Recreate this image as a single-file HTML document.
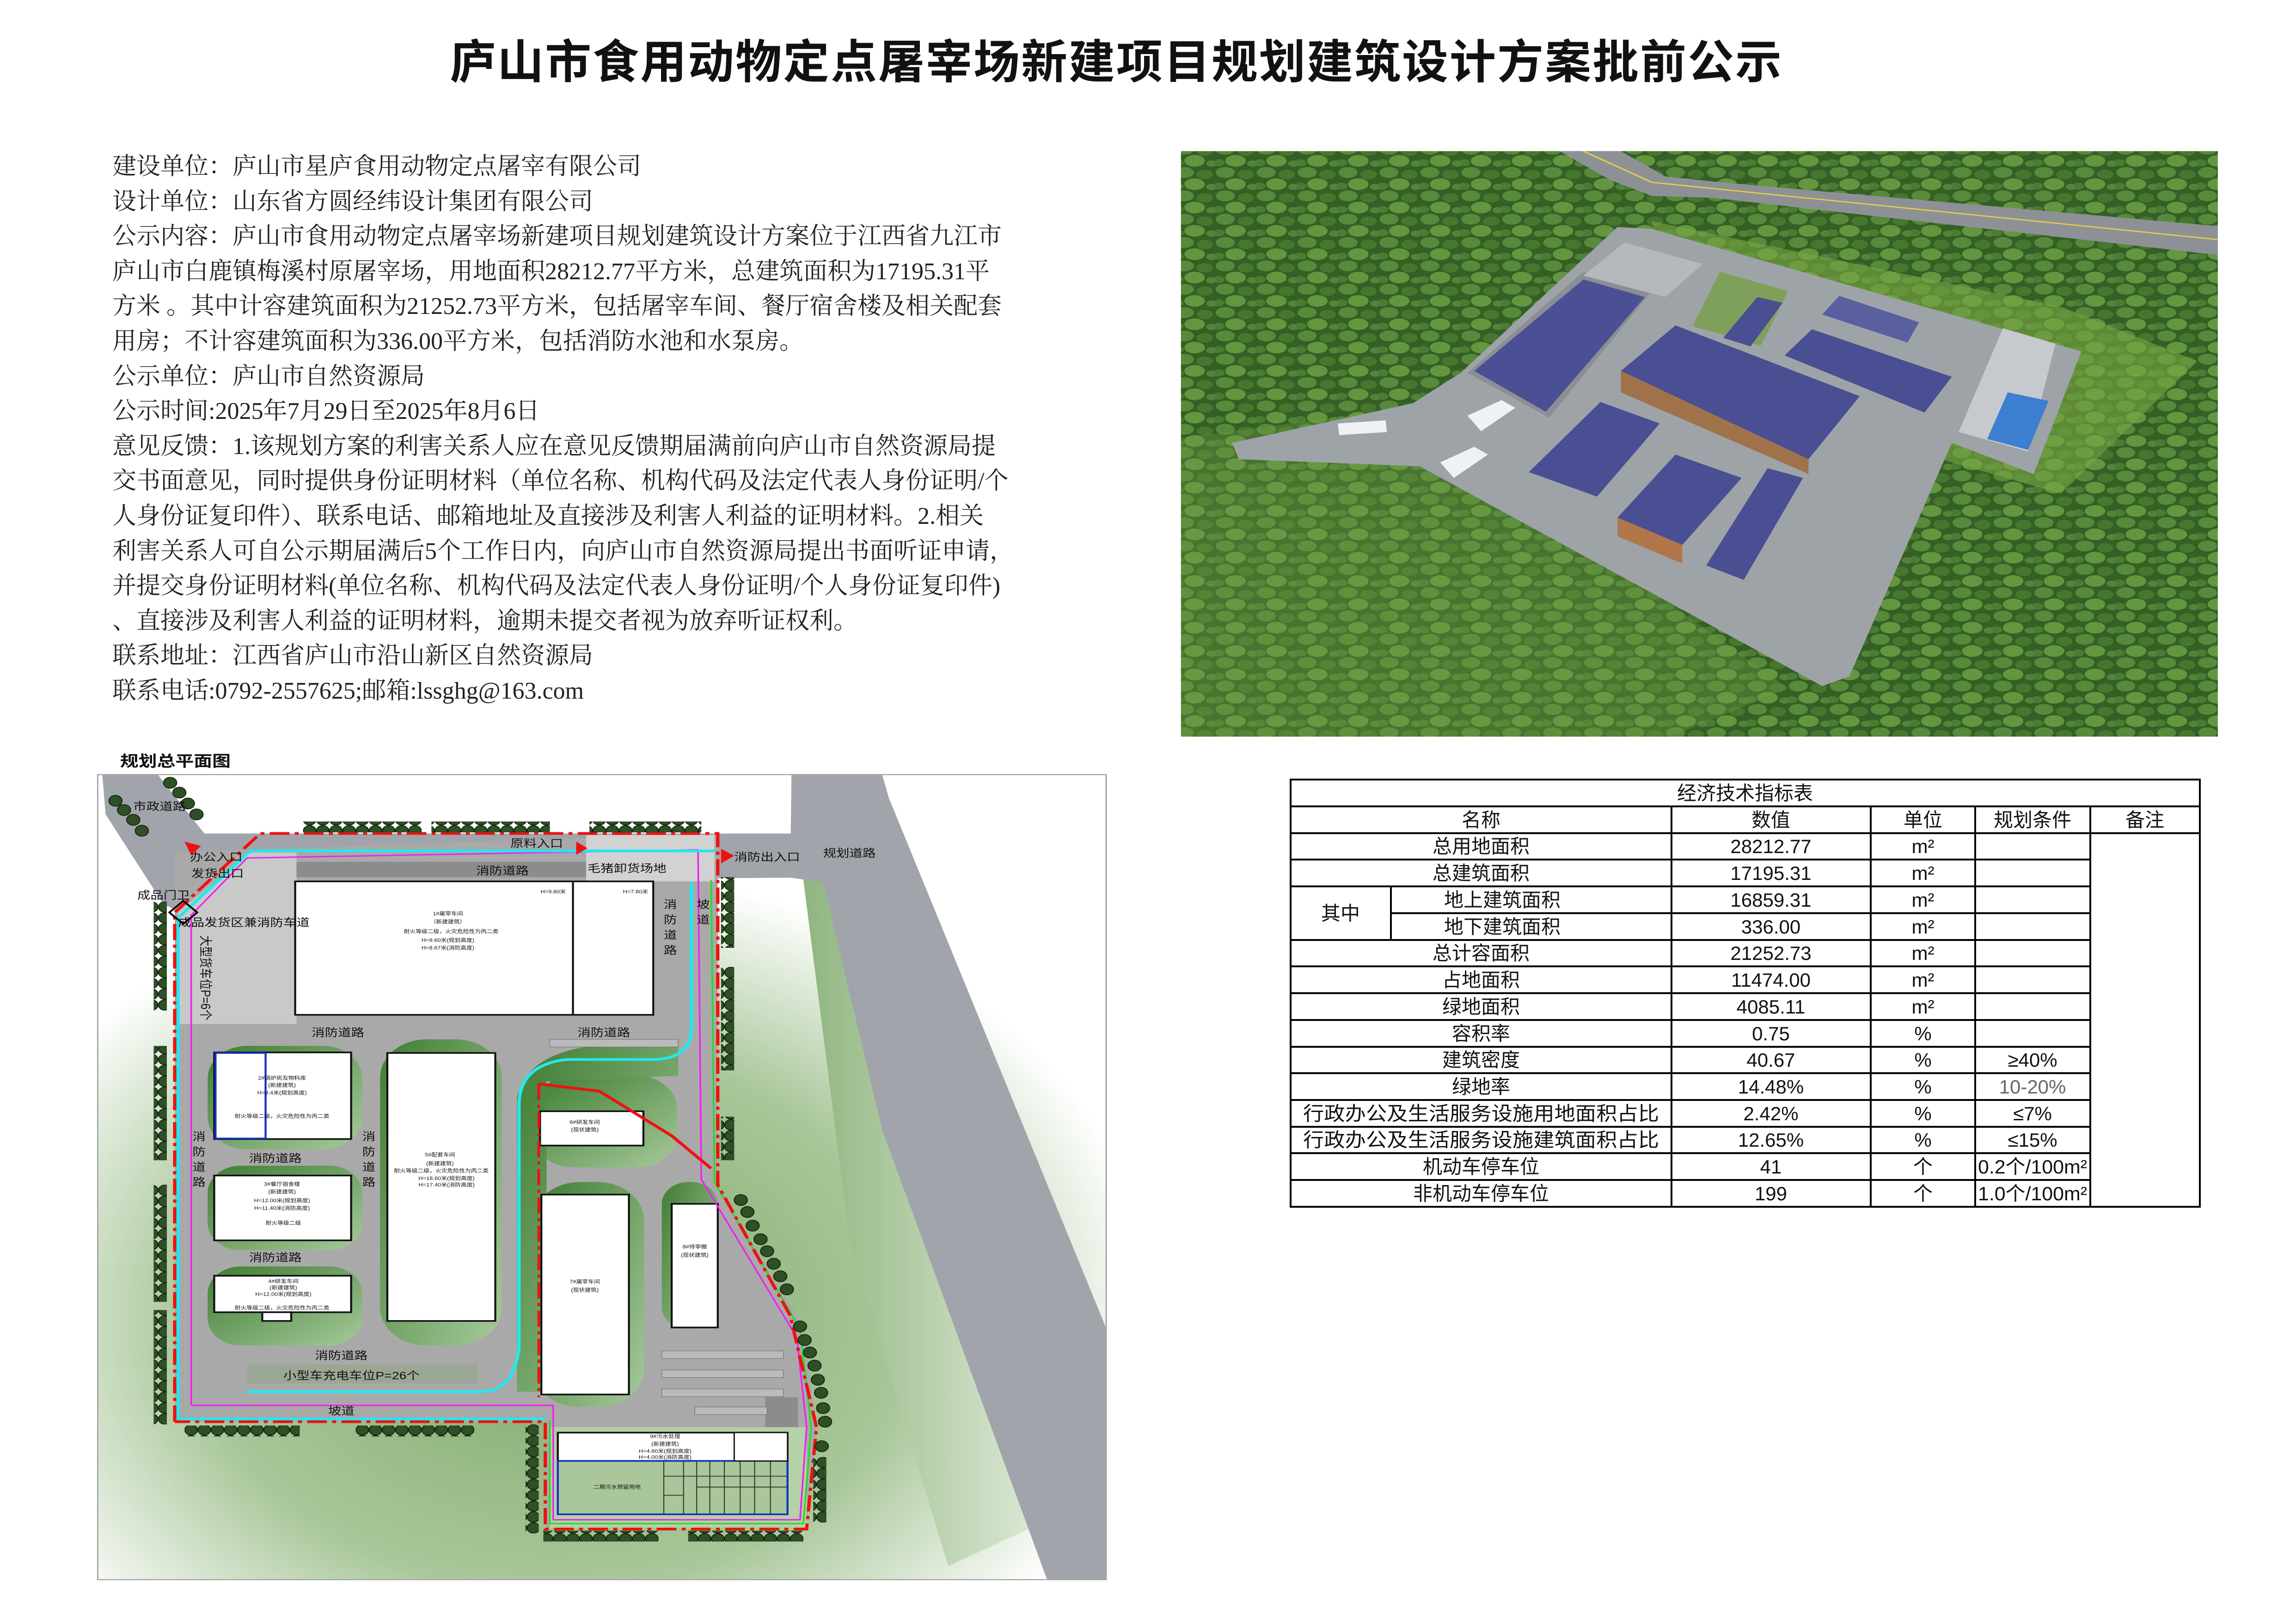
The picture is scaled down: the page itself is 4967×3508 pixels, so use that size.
<!DOCTYPE html>
<html><head><meta charset="utf-8"><style>
html,body{margin:0;padding:0;background:#fff}
body{width:4967px;height:3508px;position:relative;overflow:hidden;font-family:"Liberation Sans","Noto Sans CJK SC",sans-serif}
.title{position:absolute;left:0;width:4830px;top:70px;text-align:center;font-size:100px;font-weight:bold;letter-spacing:3px;line-height:130px;font-family:"Liberation Sans","Noto Sans CJK SC",sans-serif;color:#111}
.txt{position:absolute;left:243px;top:323px;font-family:"Liberation Serif","Noto Serif CJK SC",serif;font-size:52px;line-height:75.6px;color:#222}
.txt div{white-space:nowrap}
svg{position:absolute}
</style></head><body>
<div class="title">庐山市食用动物定点屠宰场新建项目规划建筑设计方案批前公示</div>
<div class="txt">
<div>建设单位：庐山市星庐食用动物定点屠宰有限公司</div>
<div>设计单位：山东省方圆经纬设计集团有限公司</div>
<div>公示内容：庐山市食用动物定点屠宰场新建项目规划建筑设计方案位于江西省九江市</div>
<div>庐山市白鹿镇梅溪村原屠宰场，用地面积28212.77平方米，总建筑面积为17195.31平</div>
<div>方米 。其中计容建筑面积为21252.73平方米，包括屠宰车间、餐厅宿舍楼及相关配套</div>
<div>用房；不计容建筑面积为336.00平方米，包括消防水池和水泵房。</div>
<div>公示单位：庐山市自然资源局</div>
<div>公示时间:2025年7月29日至2025年8月6日</div>
<div>意见反馈：1.该规划方案的利害关系人应在意见反馈期届满前向庐山市自然资源局提</div>
<div>交书面意见，同时提供身份证明材料（单位名称、机构代码及法定代表人身份证明/个</div>
<div>人身份证复印件）、联系电话、邮箱地址及直接涉及利害人利益的证明材料。2.相关</div>
<div>利害关系人可自公示期届满后5个工作日内，向庐山市自然资源局提出书面听证申请，</div>
<div>并提交身份证明材料(单位名称、机构代码及法定代表人身份证明/个人身份证复印件)</div>
<div>、直接涉及利害人利益的证明材料，逾期未提交者视为放弃听证权利。</div>
<div>联系地址：江西省庐山市沿山新区自然资源局</div>
<div>联系电话:0792-2557625;邮箱:lssghg@163.com</div>
</div>

<!-- PHOTO -->
<svg style="left:2540px;top:310px" width="2280" height="1300" viewBox="0 0 1545 1545" preserveAspectRatio="none">
<defs>
<pattern id="tr" width="60" height="60" patternUnits="userSpaceOnUse">
<rect width="60" height="60" fill="#355f25"/>
<circle cx="15" cy="15" r="14" fill="#578a3a"/><circle cx="45" cy="20" r="12" fill="#46772f"/>
<circle cx="30" cy="45" r="15" fill="#64963f"/><circle cx="5" cy="50" r="9" fill="#4a7c33"/><circle cx="55" cy="52" r="8" fill="#52843a"/>
</pattern>
<clipPath id="pc"><rect x="10" y="20" width="1520" height="1505"/></clipPath>
</defs>
<g clip-path="url(#pc)">
<rect x="0" y="0" width="1545" height="1545" fill="url(#tr)"/>
<polygon points="0,760 300,690 500,900 700,1150 900,1400 700,1545 0,1545" fill="#6f9f44" opacity="0.35"/>
<polygon points="700,200 1300,420 1500,560 1300,900 1100,800 1000,1000 800,800" fill="#7aa645" opacity="0.6"/>
<polygon points="560,15 650,15 720,85 800,100 1545,215 1545,290 790,140 700,135 640,95" fill="#8d9196"/>
<polyline points="600,20 700,100 800,118 1545,250" stroke="#e8d040" stroke-width="3" fill="none"/>
<polygon points="650,215 700,220 1330,535 1260,850 1140,770 990,1370 950,1395 360,830 95,812 85,770 350,668 420,590" fill="#9ea3a8"/>
<polygon points="800,330 900,380 860,520 760,470" fill="#7ea05a"/>
<polygon points="430,590 600,330 700,380 550,705" fill="#8b8f94"/>
<polygon points="440,585 600,350 690,395 545,690" fill="#4b4f94"/>
<polygon points="600,340 660,255 775,310 720,395" fill="#b5b8bc"/>
<polygon points="655,585 735,468 1005,650 930,812" fill="#4a4e92"/>
<polygon points="655,585 930,812 930,850 655,640" fill="#a0724a"/>
<polygon points="895,545 935,478 1140,600 1100,692" fill="#4a4e92"/>
<polygon points="805,500 855,395 892,410 845,522" fill="#4a4e92"/>
<polygon points="950,440 975,392 1092,460 1075,512" fill="#5a5fa0"/>
<polygon points="520,845 625,665 712,720 620,908" fill="#4a4e92"/>
<polygon points="650,962 735,800 832,860 745,1032" fill="#4a4e92"/>
<polygon points="650,962 745,1032 745,1080 650,1010" fill="#b0764a"/>
<polygon points="780,1085 870,835 922,860 835,1122" fill="#4a4e92"/>
<polygon points="1150,742 1215,475 1292,515 1252,792" fill="#c6c9cd"/>
<polygon points="1192,760 1222,640 1282,662 1252,788" fill="#3d7fd0"/>
<polygon points="240,720 310,712 312,742 242,750" fill="#eef2f5"/>
<polygon points="430,700 480,660 500,680 450,740" fill="#eef2f5"/>
<polygon points="390,820 440,780 460,800 410,860" fill="#eef2f5"/>
</g>
</svg>

<!-- TABLE -->
<svg style="left:0;top:0" width="4967" height="3508" viewBox="0 0 4967 3508" font-family="Liberation Sans, Noto Sans CJK SC, sans-serif" font-size="42" text-anchor="middle">
<g stroke="#000" stroke-width="4" fill="none">
<rect x="2792" y="1686" width="1967" height="924"/>
<line x1="2792" y1="1744" x2="4759" y2="1744"/>
<line x1="2792" y1="1802" x2="4759" y2="1802"/>
<line x1="3616" y1="1744" x2="3616" y2="2610"/>
<line x1="4047" y1="1744" x2="4047" y2="2610"/>
<line x1="4273" y1="1744" x2="4273" y2="2610"/>
<line x1="4522" y1="1744" x2="4522" y2="2610"/>
<line x1="3009" y1="1917" x2="3009" y2="2033"/>
<line x1="2792" y1="1859" x2="4522" y2="1859"/>
<line x1="2792" y1="1917" x2="4522" y2="1917"/>
<line x1="3009" y1="1975" x2="4522" y2="1975"/>
<line x1="2792" y1="2033" x2="4522" y2="2033"/>
<line x1="2792" y1="2090" x2="4522" y2="2090"/>
<line x1="2792" y1="2148" x2="4522" y2="2148"/>
<line x1="2792" y1="2206" x2="4522" y2="2206"/>
<line x1="2792" y1="2264" x2="4522" y2="2264"/>
<line x1="2792" y1="2321" x2="4522" y2="2321"/>
<line x1="2792" y1="2379" x2="4522" y2="2379"/>
<line x1="2792" y1="2437" x2="4522" y2="2437"/>
<line x1="2792" y1="2494" x2="4522" y2="2494"/>
<line x1="2792" y1="2552" x2="4522" y2="2552"/>
</g>
<g fill="#111">
<text x="3775" y="1730">经济技术指标表</text>
<text x="3204" y="1788">名称</text><text x="3831" y="1788">数值</text><text x="4160" y="1788">单位</text><text x="4397" y="1788">规划条件</text><text x="4640" y="1788">备注</text>
<text x="3204" y="1845">总用地面积</text><text x="3831" y="1845">28212.77</text><text x="4160" y="1845">m²</text>
<text x="3204" y="1903">总建筑面积</text><text x="3831" y="1903">17195.31</text><text x="4160" y="1903">m²</text>
<text x="2900" y="1990">其中</text>
<text x="3250" y="1961">地上建筑面积</text><text x="3831" y="1961">16859.31</text><text x="4160" y="1961">m²</text>
<text x="3250" y="2019">地下建筑面积</text><text x="3831" y="2019">336.00</text><text x="4160" y="2019">m²</text>
<text x="3204" y="2076">总计容面积</text><text x="3831" y="2076">21252.73</text><text x="4160" y="2076">m²</text>
<text x="3204" y="2134">占地面积</text><text x="3831" y="2134">11474.00</text><text x="4160" y="2134">m²</text>
<text x="3204" y="2192">绿地面积</text><text x="3831" y="2192">4085.11</text><text x="4160" y="2192">m²</text>
<text x="3204" y="2250">容积率</text><text x="3831" y="2250">0.75</text><text x="4160" y="2250">%</text>
<text x="3204" y="2307">建筑密度</text><text x="3831" y="2307">40.67</text><text x="4160" y="2307">%</text><text x="4397" y="2307">≥40%</text>
<text x="3204" y="2365">绿地率</text><text x="3831" y="2365">14.48%</text><text x="4160" y="2365">%</text><text x="4397" y="2365" fill="#666">10-20%</text>
<text x="3204" y="2423" textLength="770" lengthAdjust="spacingAndGlyphs">行政办公及生活服务设施用地面积占比</text><text x="3831" y="2423">2.42%</text><text x="4160" y="2423">%</text><text x="4397" y="2423">≤7%</text>
<text x="3204" y="2480" textLength="770" lengthAdjust="spacingAndGlyphs">行政办公及生活服务设施建筑面积占比</text><text x="3831" y="2480">12.65%</text><text x="4160" y="2480">%</text><text x="4397" y="2480">≤15%</text>
<text x="3204" y="2538">机动车停车位</text><text x="3831" y="2538">41</text><text x="4160" y="2538">个</text><text x="4397" y="2538" textLength="236" lengthAdjust="spacingAndGlyphs">0.2个/100m²</text>
<text x="3204" y="2596">非机动车停车位</text><text x="3831" y="2596">199</text><text x="4160" y="2596">个</text><text x="4397" y="2596" textLength="236" lengthAdjust="spacingAndGlyphs">1.0个/100m²</text>
</g>
</svg>

<!-- SITE PLAN -->
<svg style="left:200px;top:1620px" width="2200" height="1820" viewBox="0 0 1545 1545" preserveAspectRatio="none" font-family="Liberation Sans, Noto Sans CJK SC, sans-serif">
<defs>
<radialGradient id="bg" cx="0.45" cy="0.65" r="0.6"><stop offset="0" stop-color="#7fa96a"/><stop offset="0.6" stop-color="#a9c79a"/><stop offset="1" stop-color="#ffffff"/></radialGradient>
<linearGradient id="gr" x1="0" y1="0" x2="1" y2="1"><stop offset="0" stop-color="#3f7d33"/><stop offset="1" stop-color="#a6c99a"/></linearGradient>
<linearGradient id="rg" x1="0" y1="0" x2="1" y2="0"><stop offset="0" stop-color="#8fb57f"/><stop offset="1" stop-color="#e6efe0"/></linearGradient>
<pattern id="tree" width="20" height="20" patternUnits="userSpaceOnUse"><circle cx="10" cy="10" r="9.5" fill="#2f4f26" stroke="#15260f" stroke-width="1.5"/></pattern>
</defs>
<rect x="8" y="47" width="1532" height="1478" fill="#fff" stroke="#888" stroke-width="1.5"/>
<rect x="9" y="150" width="1530" height="1374" fill="url(#bg)"/>
<polygon points="1080,240 1200,240 1480,1400 1300,1500 1150,900" fill="url(#rg)"/>
<polygon points="1062,48 1200,48 1210,90 1539,1060 1539,1524 1450,1524 1200,700 1110,245 1060,236" fill="#a1a4ab"/>
<polygon points="15,48 100,48 170,155 1080,155 1080,236 130,245 135,300 108,285 20,120" fill="#a1a4ab"/>
<polygon points="125,190 235,185 950,155 950,800 1080,1060 1100,1245 1085,1430 690,1430 690,1235 125,1235" fill="#a9a9a9"/>
<polygon points="130,300 240,190 310,190 310,505 130,505" fill="#c9c9c9"/>
<rect x="750" y="158" width="195" height="85" fill="#d2d2d2"/>
<rect x="310" y="207" width="440" height="28" fill="#8c8c8c"/>
<rect x="695" y="1245" width="390" height="185" fill="#b4d1a7"/>
<rect x="235" y="1130" width="350" height="35" fill="#9aa796"/>
<g fill="url(#gr)">
<rect x="175" y="545" width="235" height="190" rx="60"/>
<rect x="175" y="765" width="235" height="155" rx="50"/>
<rect x="175" y="950" width="235" height="145" rx="50"/>
<rect x="437" y="533" width="185" height="562" rx="70"/>
<rect x="670" y="600" width="218" height="168" rx="60"/>
<rect x="670" y="795" width="168" height="413" rx="70"/>
<rect x="865" y="795" width="85" height="270" rx="40"/>
<path d="M645,640 Q660,560 760,545 L890,545 L890,600 L690,610 L690,1180 L645,1180 Z"/>
</g>
<g fill="#fff" stroke="#111" stroke-width="3">
<rect x="308" y="243" width="544" height="245"/>
<line x1="730" y1="243" x2="730" y2="488"/>
<rect x="185" y="557" width="208" height="159"/>
<rect x="185" y="783" width="208" height="119"/>
<rect x="185" y="967" width="208" height="67"/>
<rect x="258" y="1034" width="44" height="16"/>
<rect x="448" y="558" width="164" height="492"/>
<rect x="680" y="665" width="157" height="63"/>
<rect x="682" y="818" width="133" height="367"/>
<rect x="880" y="835" width="70" height="227"/>
<rect x="707" y="1255" width="349" height="52"/>
</g>
<rect x="187" y="558" width="76" height="157" fill="none" stroke="#1030c0" stroke-width="3"/>
<rect x="707" y="1307" width="349" height="98" fill="#a9c79a" stroke="#1030c0" stroke-width="3"/>
<g stroke="#333" stroke-width="1.5" fill="none">
<line x1="868" y1="1307" x2="868" y2="1405"/><line x1="898" y1="1307" x2="898" y2="1405"/><line x1="918" y1="1307" x2="918" y2="1405"/><line x1="938" y1="1307" x2="938" y2="1405"/><line x1="960" y1="1307" x2="960" y2="1405"/><line x1="984" y1="1307" x2="984" y2="1405"/><line x1="1006" y1="1307" x2="1006" y2="1405"/><line x1="1030" y1="1307" x2="1030" y2="1405"/>
<line x1="868" y1="1335" x2="1056" y2="1335"/><line x1="918" y1="1355" x2="1056" y2="1355"/><line x1="868" y1="1370" x2="898" y2="1370"/>
</g>
<rect x="975" y="1255" width="81" height="52" fill="#fff" stroke="#111" stroke-width="2"/>
<rect x="1022" y="1190" width="50" height="55" fill="#8c8c8c"/>
<g fill="#bbb" stroke="#777" stroke-width="1">
<rect x="695" y="533" width="195" height="14"/><rect x="865" y="1105" width="185" height="14"/><rect x="865" y="1140" width="185" height="14"/><rect x="865" y="1175" width="185" height="14"/><rect x="915" y="1208" width="110" height="14"/>
</g>
<polyline points="150,1205 150,305 235,200 920,185 925,790 1070,1080 1085,1245 1075,1415 700,1415 700,1205 150,1205" fill="none" stroke="#ee22ee" stroke-width="2.5"/>
<polyline points="940,240 945,795 1075,1065 1092,1245 1080,1422 695,1422 695,1232" fill="none" stroke="#22dd22" stroke-width="2.5"/>
<polyline points="130,1230 130,310 240,187 945,187" fill="none" stroke="#22e8ee" stroke-width="5"/>
<polyline points="130,1230 688,1230" fill="none" stroke="#22e8ee" stroke-width="5"/>
<path d="M910,245 L910,520 Q905,570 850,570 L720,570 Q650,580 648,650 L648,1100 Q640,1180 590,1180 L235,1180" fill="none" stroke="#22e8ee" stroke-width="5"/>
<polyline points="125,1235 125,300 255,155 950,155 950,800 1060,1040 1100,1245 1085,1432 688,1432 688,1235 125,1235" fill="none" stroke="#ee1111" stroke-width="5" stroke-dasharray="30 8 6 8"/>
<polyline points="678,615 770,628 880,710 940,770" fill="none" stroke="#ee1111" stroke-width="5"/>
<line x1="678" y1="615" x2="678" y2="1190" stroke="#ee1111" stroke-width="4" stroke-dasharray="30 8 6 8"/>
<g fill="#ee1111"><polygon points="140,170 165,178 150,195"/><polygon points="735,170 752,182 735,194"/><polygon points="955,183 975,196 955,210"/></g>
<rect x="123" y="285" width="30" height="30" fill="none" stroke="#000" stroke-width="3" transform="rotate(45 138 300)"/>
<g fill="url(#tree)">
<rect x="320" y="133" width="180" height="20"/><rect x="515" y="133" width="180" height="20"/><rect x="755" y="133" width="170" height="20"/>
<rect x="93" y="280" width="20" height="200"/><rect x="93" y="545" width="20" height="210"/><rect x="93" y="800" width="20" height="215"/><rect x="93" y="1030" width="20" height="210"/>
<rect x="955" y="235" width="20" height="130"/><rect x="955" y="400" width="20" height="190"/><rect x="955" y="675" width="20" height="80"/>
<rect x="140" y="1242" width="175" height="20"/><rect x="400" y="1242" width="180" height="20"/>
<rect x="658" y="1240" width="20" height="200"/><rect x="685" y="1435" width="175" height="20"/><rect x="905" y="1435" width="175" height="20"/>
<rect x="1095" y="1300" width="20" height="120"/>
</g>
<g fill="#2f4f26" stroke="#15260f" stroke-width="1.5">
<circle cx="35" cy="95" r="10"/><circle cx="48" cy="112" r="10"/><circle cx="62" cy="130" r="10"/><circle cx="75" cy="150" r="10"/><circle cx="118" cy="62" r="10"/><circle cx="132" cy="80" r="10"/><circle cx="145" cy="100" r="10"/><circle cx="158" cy="120" r="10"/>
<circle cx="985" cy="828" r="10"/><circle cx="995" cy="850" r="10"/><circle cx="1003" cy="875" r="10"/><circle cx="1015" cy="900" r="10"/><circle cx="1025" cy="922" r="10"/><circle cx="1035" cy="945" r="10"/><circle cx="1045" cy="968" r="10"/><circle cx="1055" cy="992" r="10"/>
<circle cx="1075" cy="1060" r="10"/><circle cx="1082" cy="1085" r="10"/><circle cx="1090" cy="1108" r="10"/><circle cx="1097" cy="1132" r="10"/><circle cx="1102" cy="1158" r="10"/><circle cx="1107" cy="1182" r="10"/><circle cx="1110" cy="1210" r="10"/><circle cx="1113" cy="1235" r="10"/><circle cx="1108" cy="1280" r="10"/>
</g>
<g fill="#111" font-size="20">
<text x="42" y="32" font-size="28" font-weight="bold">规划总平面图</text>
<text x="62" y="112">市政道路</text><text x="148" y="205">办公入口</text><text x="150" y="235">发货出口</text><text x="68" y="275">成品门卫</text>
<text x="130" y="325">成品发货区兼消防车道</text><text x="635" y="180">原料入口</text><text x="752" y="226">毛猪卸货场地</text>
<text x="975" y="205">消防出入口</text><text x="1110" y="198">规划道路</text><text x="583" y="230">消防道路</text>
<text x="333" y="527">消防道路</text><text x="737" y="527">消防道路</text><text x="238" y="758">消防道路</text><text x="238" y="940">消防道路</text><text x="338" y="1120">消防道路</text>
<text x="290" y="1157">小型车充电车位P=26个</text><text x="358" y="1222">坡道</text>
<text x="868" y="292">消</text><text x="868" y="320">防</text><text x="868" y="348">道</text><text x="868" y="376">路</text>
<text x="918" y="292">坡</text><text x="918" y="320">道</text>
<text x="152" y="718">消</text><text x="152" y="746">防</text><text x="152" y="774">道</text><text x="152" y="802">路</text>
<text x="410" y="718">消</text><text x="410" y="746">防</text><text x="410" y="774">道</text><text x="410" y="802">路</text>
<text x="155" y="352" transform="rotate(90 165 352)">大型货车位P=6个</text>
</g>
<g fill="#111" font-size="9" text-anchor="middle">
<text x="540" y="305">1#屠宰车间</text><text x="540" y="320">（新建建筑）</text><text x="545" y="338">耐火等级二级，火灾危险性为丙二类</text><text x="540" y="354">H=9.60米(规划高度)</text><text x="540" y="368">H=8.67米(消防高度)</text>
<text x="700" y="265">H=9.60米</text><text x="825" y="265">H=7.80米</text>
<text x="288" y="607">2#锅炉房及物料库</text><text x="288" y="620">(新建建筑)</text><text x="288" y="634">H=9.4米(规划高度)</text><text x="288" y="677">耐火等级二级，火灾危险性为丙二类</text>
<text x="288" y="802">3#餐厅宿舍楼</text><text x="288" y="816">(新建建筑)</text><text x="288" y="832">H=12.00米(规划高度)</text><text x="288" y="846">H=11.40米(消防高度)</text><text x="290" y="873">耐火等级二级</text>
<text x="290" y="980">4#研发车间</text><text x="290" y="992">(新建建筑)</text><text x="290" y="1004">H=12.00米(规划高度)</text><text x="288" y="1029">耐火等级二级，火灾危险性为丙二类</text>
<text x="528" y="748">5#配套车间</text><text x="528" y="764">(新建建筑)</text><text x="530" y="777">耐火等级二级，火灾危险性为丙二类</text><text x="538" y="791">H=18.60米(规划高度)</text><text x="538" y="803">H=17.40米(消防高度)</text>
<text x="748" y="688">6#研发车间</text><text x="748" y="702">(现状建筑)</text>
<text x="748" y="981">7#屠宰车间</text><text x="748" y="996">(现状建筑)</text>
<text x="915" y="917">8#待宰棚</text><text x="915" y="932">(现状建筑)</text>
<text x="870" y="1265">9#污水处理</text><text x="870" y="1279">(新建建筑)</text><text x="870" y="1292">H=4.60米(规划高度)</text><text x="870" y="1303">H=4.00米(消防高度)</text>
<text x="797" y="1358">二期污水预留用地</text>
</g>
</svg>
</body></html>
